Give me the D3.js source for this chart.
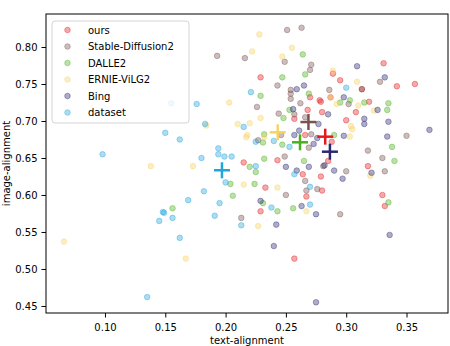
<!DOCTYPE html>
<html lang="en">
<head>
	<meta http-equiv="Content-Type" content="text/html; charset=utf-8">
	<title>alignment scatter</title>
	<script src="https://cdn.jsdelivr.net/npm/d3@7/dist/d3.min.js"></script>
	<style>
		body { margin: 0; background: #fff; }
		svg { font-family: "DejaVu Sans", sans-serif; font-size: 10px; }
		.tick line { stroke: #000; }
	</style>
</head>
<body>
<div id="chart"></div>
<script type="text/javascript">
	var seriesNames = ["ours", "Stable-Diffusion2", "DALLE2", "ERNIE-ViLG2", "Bing", "dataset"];
	var seriesColors = ["#e41a1c", "#7a5252", "#4caf1e", "#f7d362", "#2b2870", "#22a4dc"];

	// [text-alignment, image-alignment]
	var ours = [[0.229,0.759],[0.270,0.732],[0.278,0.728],[0.279,0.726],[0.268,0.715],[0.257,0.703],[0.331,0.778],[0.289,0.764],
		[0.295,0.755],[0.342,0.747],[0.357,0.750],[0.313,0.743],[0.287,0.732],[0.319,0.726],[0.280,0.712],[0.308,0.712],
		[0.300,0.701],[0.266,0.681],[0.288,0.672],[0.215,0.644],[0.243,0.647],[0.285,0.646],[0.264,0.628],[0.279,0.625],
		[0.318,0.639],[0.233,0.610],[0.280,0.606],[0.267,0.598],[0.330,0.600],[0.332,0.585],[0.229,0.578],[0.257,0.514]];
	var sd2 = [[0.251,0.823],[0.263,0.826],[0.193,0.788],[0.216,0.785],[0.249,0.780],[0.271,0.776],[0.270,0.769],[0.243,0.748],
		[0.254,0.742],[0.254,0.737],[0.254,0.730],[0.226,0.719],[0.262,0.724],[0.244,0.710],[0.257,0.709],[0.266,0.705],
		[0.328,0.753],[0.313,0.743],[0.286,0.742],[0.302,0.723],[0.350,0.680],[0.269,0.664],[0.249,0.652],[0.281,0.639],
		[0.318,0.660],[0.330,0.650],[0.332,0.632],[0.300,0.632],[0.266,0.619],[0.267,0.606],[0.276,0.608],[0.250,0.600],
		[0.213,0.569],[0.295,0.574],[0.227,0.674],[0.271,0.682],[0.246,0.681]];
	var dalle2 = [[0.264,0.790],[0.229,0.734],[0.247,0.759],[0.266,0.763],[0.269,0.737],[0.253,0.715],[0.248,0.704],[0.295,0.725],
		[0.303,0.728],[0.315,0.725],[0.335,0.724],[0.334,0.715],[0.290,0.681],[0.232,0.682],[0.231,0.671],[0.247,0.668],
		[0.220,0.638],[0.225,0.631],[0.232,0.649],[0.265,0.646],[0.338,0.665],[0.340,0.646],[0.204,0.615],[0.224,0.615],
		[0.206,0.599],[0.231,0.589],[0.243,0.578],[0.256,0.582],[0.335,0.590],[0.156,0.582]];
	var ernie = [[0.228,0.817],[0.222,0.794],[0.255,0.799],[0.247,0.787],[0.203,0.725],[0.229,0.704],[0.289,0.768],[0.309,0.753],
		[0.287,0.732],[0.292,0.723],[0.310,0.721],[0.323,0.714],[0.304,0.693],[0.305,0.689],[0.303,0.679],[0.184,0.694],
		[0.210,0.696],[0.220,0.697],[0.217,0.678],[0.218,0.681],[0.232,0.678],[0.138,0.639],[0.173,0.639],[0.215,0.614],
		[0.243,0.610],[0.267,0.578],[0.227,0.558],[0.066,0.537],[0.167,0.514],[0.320,0.626]];
	var bing = [[0.265,0.748],[0.259,0.743],[0.256,0.716],[0.309,0.774],[0.332,0.759],[0.298,0.732],[0.326,0.715],[0.285,0.709],
		[0.315,0.703],[0.315,0.696],[0.335,0.699],[0.277,0.696],[0.298,0.680],[0.334,0.679],[0.369,0.688],[0.257,0.681],
		[0.261,0.687],[0.276,0.677],[0.273,0.669],[0.250,0.638],[0.269,0.638],[0.259,0.633],[0.282,0.640],[0.290,0.633],
		[0.297,0.622],[0.321,0.630],[0.229,0.592],[0.263,0.585],[0.275,0.574],[0.242,0.560],[0.240,0.531],[0.275,0.455],
		[0.336,0.546]];
	var dataset = [[0.221,0.739],[0.300,0.745],[0.176,0.723],[0.155,0.724],[0.183,0.696],[0.215,0.692],[0.150,0.684],[0.162,0.675],
		[0.225,0.672],[0.240,0.673],[0.253,0.665],[0.098,0.655],[0.194,0.663],[0.194,0.655],[0.199,0.652],[0.205,0.652],
		[0.180,0.650],[0.225,0.639],[0.257,0.628],[0.270,0.611],[0.200,0.617],[0.182,0.605],[0.169,0.593],[0.195,0.589],
		[0.238,0.583],[0.270,0.587],[0.148,0.577],[0.149,0.576],[0.145,0.565],[0.156,0.569],[0.191,0.572],[0.213,0.559],
		[0.162,0.542],[0.135,0.462]];

	// mean of each series, drawn as a "+"
	var meanX = [0.2826, 0.2687, 0.2617, 0.2432, 0.2865, 0.1970];
	var meanY = [0.6788, 0.6986, 0.6712, 0.6847, 0.6585, 0.6334];

	var xTicks = [0.10, 0.15, 0.20, 0.25, 0.30, 0.35];
	var yTicks = [0.45, 0.50, 0.55, 0.60, 0.65, 0.70, 0.75, 0.80];

	var allSeries = [ours, sd2, dalle2, ernie, bing, dataset];

	var W = 450, H = 346;
	var margin = {top: 14, right: 2, bottom: 33, left: 46};
	var width = W - margin.left - margin.right;
	var height = H - margin.top - margin.bottom;

	var svg = d3.select("#chart").append("svg")
		.attr("width", W)
		.attr("height", H);
	svg.append("rect").attr("width", W).attr("height", H).attr("fill", "#fff");

	var g = svg.append("g")
		.attr("transform", "translate(" + margin.left + "," + margin.top + ")");

	var x = d3.scaleLinear().domain([0.0511, 0.3844]).range([0, width]);
	var y = d3.scaleLinear().domain([0.4405, 0.8446]).range([height, 0]);

	// x-axis
	var xAxis = g.append("g")
		.attr("transform", "translate(0," + height + ")")
		.call(d3.axisBottom(x).tickValues(xTicks).tickFormat(d3.format(".2f")).tickSize(4.5).tickPadding(6.5));
	// y-axis
	var yAxis = g.append("g")
		.call(d3.axisLeft(y).tickValues(yTicks).tickFormat(d3.format(".2f")).tickSize(4.5).tickPadding(4));
	[xAxis, yAxis].forEach(function(a) {
		a.select(".domain").remove();
		a.selectAll("text").attr("fill", "#000").style("font-size", "10px").style("font-family", "DejaVu Sans");
	});

	// points
	allSeries.forEach(function(pts, i) {
		g.append("g").selectAll("circle")
			.data(pts)
			.enter().append("circle")
			.attr("cx", function(d){ return x(d[0]) })
			.attr("cy", function(d){ return y(d[1]) })
			.attr("r", 2.8)
			.attr("fill", seriesColors[i])
			.attr("fill-opacity", 0.38)
			.attr("stroke", seriesColors[i])
			.attr("stroke-opacity", 0.38)
			.attr("stroke-width", 1);
	});

	// mean crosses
	var arm = 8;
	var crosses = g.append("g").selectAll("g")
		.data(seriesNames.map(function(n, i){ return {i: i, x: meanX[i], y: meanY[i]} }))
		.enter().append("g")
		.attr("stroke", function(d){ return seriesColors[d.i] })
		.attr("stroke-width", 2.5);
	crosses.append("line")
		.attr("x1", function(d){ return x(d.x) - arm }).attr("x2", function(d){ return x(d.x) + arm })
		.attr("y1", function(d){ return y(d.y) }).attr("y2", function(d){ return y(d.y) });
	crosses.append("line")
		.attr("x1", function(d){ return x(d.x) }).attr("x2", function(d){ return x(d.x) })
		.attr("y1", function(d){ return y(d.y) - arm }).attr("y2", function(d){ return y(d.y) + arm });

	// frame
	g.append("rect")
		.attr("width", width).attr("height", height)
		.attr("fill", "none").attr("stroke", "#000").attr("stroke-width", 1);

	// legend
	var legend = g.append("g").attr("transform", "translate(6,7)");
	legend.append("rect")
		.attr("width", 137).attr("height", 102)
		.attr("rx", 3)
		.attr("fill", "#fff").attr("fill-opacity", 0.8)
		.attr("stroke", "#d4d4d4").attr("stroke-width", 1);
	var items = legend.selectAll("g.item")
		.data(seriesNames)
		.enter().append("g")
		.attr("class", "item")
		.attr("transform", function(d, i){ return "translate(0," + (9 + i * 16.5) + ")" });
	items.append("circle")
		.attr("cx", 15.5).attr("cy", 0).attr("r", 2.8)
		.attr("fill", function(d, i){ return seriesColors[i] }).attr("fill-opacity", 0.38)
		.attr("stroke", function(d, i){ return seriesColors[i] }).attr("stroke-opacity", 0.38);
	items.append("text")
		.attr("x", 36).attr("y", 0).attr("dy", "0.35em")
		.attr("fill", "#000")
		.text(function(d){ return d });

	// axis labels (the reference crops the x label at the bottom edge)
	svg.append("text")
		.attr("x", margin.left + width / 2).attr("y", 344)
		.attr("text-anchor", "middle")
		.text("text-alignment");
	svg.append("text")
		.attr("transform", "translate(10," + (margin.top + height / 2) + ") rotate(-90)")
		.attr("text-anchor", "middle")
		.text("image-alignment");
</script>
</body>
</html>
